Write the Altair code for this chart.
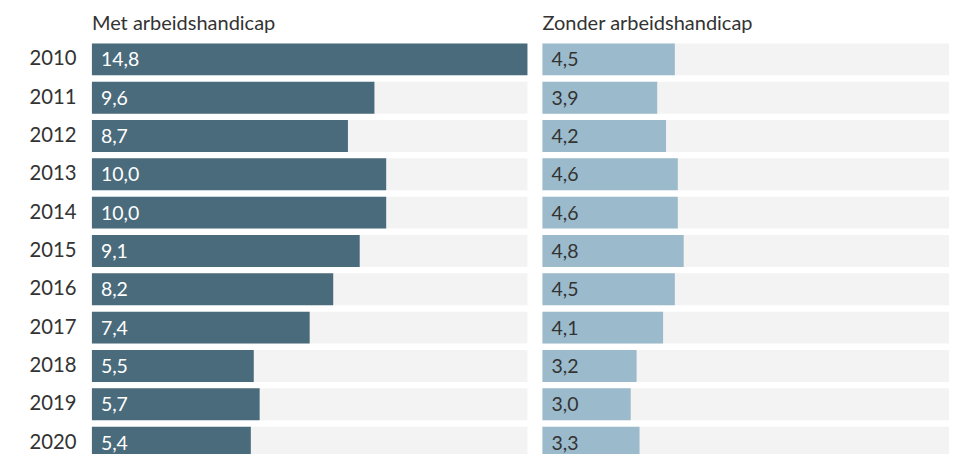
import altair as alt
import pandas as pd

years = ["2010", "2011", "2012", "2013", "2014", "2015", "2016", "2017", "2018", "2019", "2020"]
met = [14.8, 9.6, 8.7, 10.0, 10.0, 9.1, 8.2, 7.4, 5.5, 5.7, 5.4]
zonder = [4.5, 3.9, 4.2, 4.6, 4.6, 4.8, 4.5, 4.1, 3.2, 3.0, 3.3]
titles = ["Met arbeidshandicap", "Zonder arbeidshandicap"]
xmax = 14.8

FONT = "Lato"
W_LEFT = 436
W_RIGHT = 407

def fmt(v):
    return f"{v:.1f}".replace(".", ",")

def panel(vals, title, bar_color, text_color, show_axis, width):
    dmax = xmax * width / W_LEFT
    df = pd.DataFrame({
        "jaar": years,
        "waarde": vals,
        "label": [fmt(v) for v in vals],
        "max": [dmax] * len(years),
        "zero": [0.0] * len(years),
    })
    xs = alt.Scale(domain=[0, dmax], nice=False, zero=True)
    ys = alt.Scale(domain=years, paddingInner=0.167, paddingOuter=0.083)
    if show_axis:
        yax = alt.Axis(title=None, ticks=False, domain=False, labelFontSize=20.3,
                       labelColor="#333333", labelFont=FONT, labelPadding=16,
                       minExtent=63, maxExtent=63)
    else:
        yax = None
    base = alt.Chart(df)
    bg = base.mark_bar(color="#f3f3f3").encode(
        x=alt.X("max:Q", scale=xs, axis=None),
        y=alt.Y("jaar:N", scale=ys, axis=yax),
    )
    bars = base.mark_bar(color=bar_color).encode(
        x=alt.X("waarde:Q", scale=xs, axis=None),
        y=alt.Y("jaar:N", scale=ys, axis=yax),
    )
    txt = base.mark_text(align="left", baseline="middle", dx=9, dy=1, fontSize=19.5,
                         font=FONT, color=text_color).encode(
        x=alt.X("zero:Q", scale=xs, axis=None),
        y=alt.Y("jaar:N", scale=ys, axis=yax),
        text="label:N",
    )
    return alt.layer(bg, bars, txt).properties(
        width=width, height=422,
        title=alt.TitleParams(title, anchor="start", frame="group", fontSize=20,
                              font=FONT, fontWeight="normal", color="#333333",
                              offset=6),
    )

left = panel(met, titles[0], "#4a6b7b", "#ffffff", True, W_LEFT)
right = panel(zonder, titles[1], "#9bbbcc", "#333333", False, W_RIGHT)

chart = alt.hconcat(left, right, spacing=15).properties(
    padding={"left": 20, "top": 6, "right": 0, "bottom": 0}
).configure_view(stroke=None)

chart.save("out.html", embed_options={"renderer": "svg", "actions": False})
